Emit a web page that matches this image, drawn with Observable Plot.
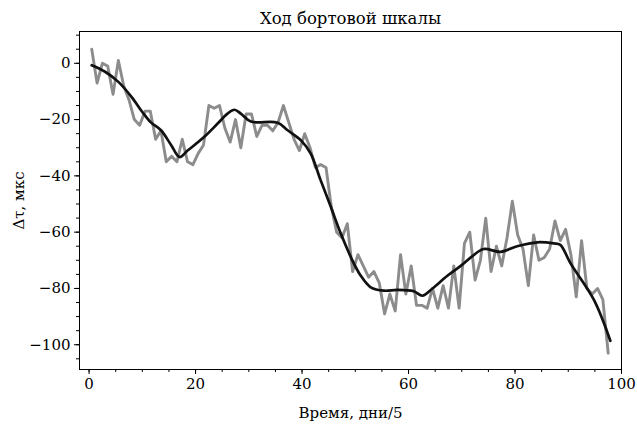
<!DOCTYPE html>
<html><head><meta charset="utf-8">
<script src="https://cdn.jsdelivr.net/npm/d3@7"></script>
<script src="https://cdn.jsdelivr.net/npm/@observablehq/plot@0.6"></script>
<style>body{margin:0;background:#fff}</style>
</head><body><div id="chart"></div>
<script>
const title = "Ход бортовой шкалы";
const xLabel = "Время, дни/5";
const yLabel = "Δτ, мкс";

// raw (noisy) measurements, one per step starting at x = 0.5
const rawValues = [
  5, -7, 0, -1, -11, 1, -8, -13, -20, -22,
  -17, -17, -27, -24, -35, -33, -35, -27, -35, -36,
  -32, -29, -15, -16, -15, -23, -28, -20, -30, -18,
  -18, -26, -22, -22, -24, -21, -15, -21, -27, -31,
  -25, -30, -37, -36, -37, -51, -60, -62, -57, -74,
  -68, -72, -76, -74, -78, -89, -82, -88, -68, -82,
  -72, -86, -86, -87, -80, -87, -79, -87, -72, -87,
  -64, -60, -77, -70, -55, -74, -65, -72, -62, -49,
  -61, -66, -79, -61, -70, -69, -66, -56, -63, -59,
  -68, -83, -63, -80, -82, -80, -84, -103
];
const rawX = d3.range(rawValues.length).map(i => i + 0.5);

// smoothed curve
const smoothX = [0.5, 3, 5.5, 8, 10, 11.6, 13.5, 15.4, 17, 18.5, 21.6, 24.1, 26, 27.3, 28.5, 30.4,
  35.4, 37.3, 39.8, 41.6, 43.5, 45.4, 47.3, 49.2, 51, 52.9, 55.4, 57.9, 61, 62.6, 64.5,
  67.3, 69.8, 72, 74.1, 77.3, 80.4, 84.2, 87.3, 88.5, 90.4, 94.8, 97.9];
const smoothY = [-0.7, -3, -6.6, -12, -17.3, -21, -23.8, -29, -33.3, -31, -26.2, -21.5, -17.9, -16.5, -17.9, -20.7,
  -21.1, -23.8, -27.4, -32, -41.6, -51, -60.6, -69, -75.4, -79.6, -80.8, -80.5, -81, -82.6, -80,
  -75.5, -72, -68.5, -66, -67, -65, -63.6, -64, -64.5, -71, -84, -98.6];

const xTicks = [0, 20, 40, 60, 80, 100];
const yTicks = [-100, -80, -60, -40, -20, 0];
const xMinor = d3.range(0, 101, 5);
const yMinor = d3.range(-105, 11, 5);

const raw = rawValues.map((v, i) => ({x: rawX[i], y: v}));
const smooth = smoothY.map((v, i) => ({x: smoothX[i], y: v}));

const font = "'DejaVu Serif', serif";
const chart = Plot.plot({
  width: 637, height: 425,
  marginLeft: 79, marginRight: 16, marginTop: 31, marginBottom: 56,
  style: {fontFamily: font, fontSize: "14px", background: "#fff", color: "#000"},
  x: {domain: [-1.8, 100]},
  y: {domain: [-108.8, 11.3]},
  marks: [
    Plot.line(raw, {x: "x", y: "y", stroke: "#8c8c8c", strokeWidth: 2.9, strokeLinejoin: "round"}),
    Plot.line(smooth, {x: "x", y: "y", stroke: "#111", strokeWidth: 2.7, strokeLinejoin: "round", curve: "catmull-rom"}),
    Plot.frame({stroke: "#000", strokeWidth: 1}),
    Plot.axisX(xMinor, {tickSize: 3, tickFormat: () => "", label: null}),
    Plot.axisX(xTicks, {tickSize: 5, tickPadding: 4, fontSize: 15, label: xLabel, labelAnchor: "center", labelArrow: "none", labelOffset: 48}),
    Plot.axisY(yMinor, {tickSize: 3, tickFormat: () => "", label: null}),
    Plot.axisY(yTicks, {tickSize: 5, tickPadding: 4, fontSize: 15, label: yLabel, labelAnchor: "center", labelArrow: "none", labelOffset: 66}),
    Plot.text([title], {frameAnchor: "top", lineAnchor: "bottom", dy: -8, fontSize: 16.5})
  ]
});
document.getElementById("chart").appendChild(chart);
</script>
</body></html>
